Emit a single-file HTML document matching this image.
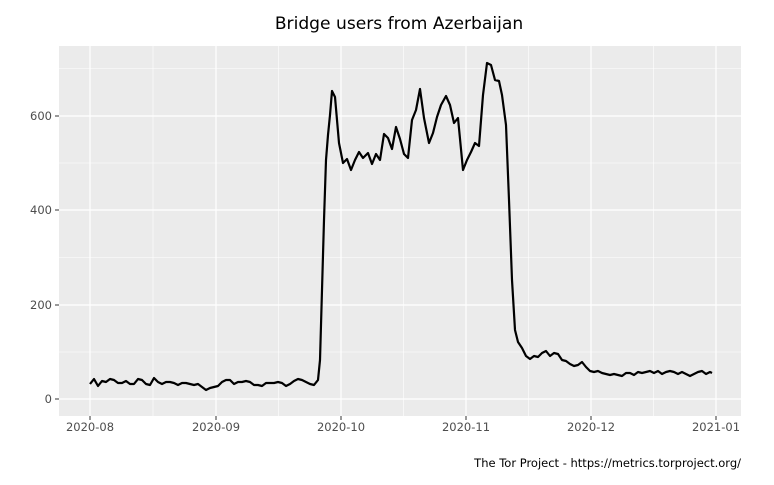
<!DOCTYPE html>
<html><head><style>body{margin:0;background:#fff}</style></head><body>
<svg width="774" height="480" xmlns="http://www.w3.org/2000/svg" font-family="DejaVu Sans, sans-serif">
<rect width="774" height="480" fill="#fff"/>
<text x="399" y="29" text-anchor="middle" font-size="17.1" fill="#000">Bridge users from Azerbaijan</text>
<rect x="59" y="46" width="682" height="370" fill="#ebebeb"/>
<g stroke="#fff" stroke-width="0.6">
<line x1="59" x2="741" y1="352" y2="352"/><line x1="59" x2="741" y1="257.5" y2="257.5"/><line x1="59" x2="741" y1="163" y2="163"/><line x1="59" x2="741" y1="68.5" y2="68.5"/>
<line y1="46" y2="416" x1="153" x2="153"/><line y1="46" y2="416" x1="278.5" x2="278.5"/><line y1="46" y2="416" x1="403.5" x2="403.5"/><line y1="46" y2="416" x1="528.5" x2="528.5"/><line y1="46" y2="416" x1="653.5" x2="653.5"/>
</g>
<g stroke="#fff" stroke-width="1.2">
<line x1="59" x2="741" y1="399" y2="399"/><line x1="59" x2="741" y1="305" y2="305"/><line x1="59" x2="741" y1="210" y2="210"/><line x1="59" x2="741" y1="116" y2="116"/>
<line y1="46" y2="416" x1="90" x2="90"/><line y1="46" y2="416" x1="216" x2="216"/><line y1="46" y2="416" x1="341" x2="341"/><line y1="46" y2="416" x1="466" x2="466"/><line y1="46" y2="416" x1="591" x2="591"/><line y1="46" y2="416" x1="716" x2="716"/>
</g>
<g stroke="#333" stroke-width="1">
<line x1="55" x2="59" y1="399" y2="399"/><line x1="55" x2="59" y1="305" y2="305"/><line x1="55" x2="59" y1="210" y2="210"/><line x1="55" x2="59" y1="116" y2="116"/>
<line y1="416" y2="420" x1="90" x2="90"/><line y1="416" y2="420" x1="216" x2="216"/><line y1="416" y2="420" x1="341" x2="341"/><line y1="416" y2="420" x1="466" x2="466"/><line y1="416" y2="420" x1="591" x2="591"/><line y1="416" y2="420" x1="716" x2="716"/>
</g>
<g font-size="11.5" fill="#4d4d4d" text-anchor="end">
<text x="52" y="403">0</text><text x="52" y="309">200</text><text x="52" y="214">400</text><text x="52" y="120">600</text>
</g>
<g font-size="11.5" fill="#4d4d4d" text-anchor="middle">
<text x="90" y="431">2020-08</text><text x="216" y="431">2020-09</text><text x="341" y="431">2020-10</text><text x="466" y="431">2020-11</text><text x="591" y="431">2020-12</text><text x="716" y="431">2021-01</text>
</g>
<polyline fill="none" stroke="#000" stroke-width="2.2" stroke-linejoin="round" points="90,384 94,379 98,386 102,381 106,382 110,379 114,380 118,383 122,383 126,381 130,384 134,384 138,379 142,380 146,384 150,385 154,378 158,382 162,384 166,382 170,382 174,383 178,385 182,383 186,383 190,384 194,385 198,384 202,387 206,390 210,388 214,387 218,386 222,382 226,380 230,380 234,384 238,382 242,382 246,381 250,382 254,385 258,385 262,386 266,383 270,383 274,383 278,382 282,383 286,386 290,384 294,381 298,379 302,380 306,382 310,384 314,385 318,380 320,360 322,290 324,220 326,160 328,135 330,115 332,91 335,97 339,143 343,163 347,159 351,170 355,160 359,152 363,158 368,153 372,164 376,154 380,160 384,134 388,138 392,149 396,127 400,139 404,154 408,158 412,120 416,110 420,89 424,118 429,143 433,133 437,117 441,105 446,96 450,105 454,123 458,118 463,170 467,160 471,152 475,143 479,146 483,95 487,63 491,65 495,80 499,81 502,95 506,125 509,200 512,280 515,330 518,342 522,348 526,356 530,359 534,356 538,357 542,353 546,351 550,356 554,353 558,354 562,360 566,361 570,364 574,366 578,365 582,362 586,367 590,371 594,372 598,371 602,373 606,374 610,375 614,374 618,375 622,376 626,373 630,373 634,375 638,372 642,373 646,372 650,371 654,373 658,371 662,374 666,372 670,371 674,372 678,374 682,372 686,374 690,376 694,374 698,372 702,371 706,374 710,372 712,373"/>
<text x="741" y="467" text-anchor="end" font-size="11.5" fill="#000">The Tor Project - https://metrics.torproject.org/</text>
</svg>
</body></html>
